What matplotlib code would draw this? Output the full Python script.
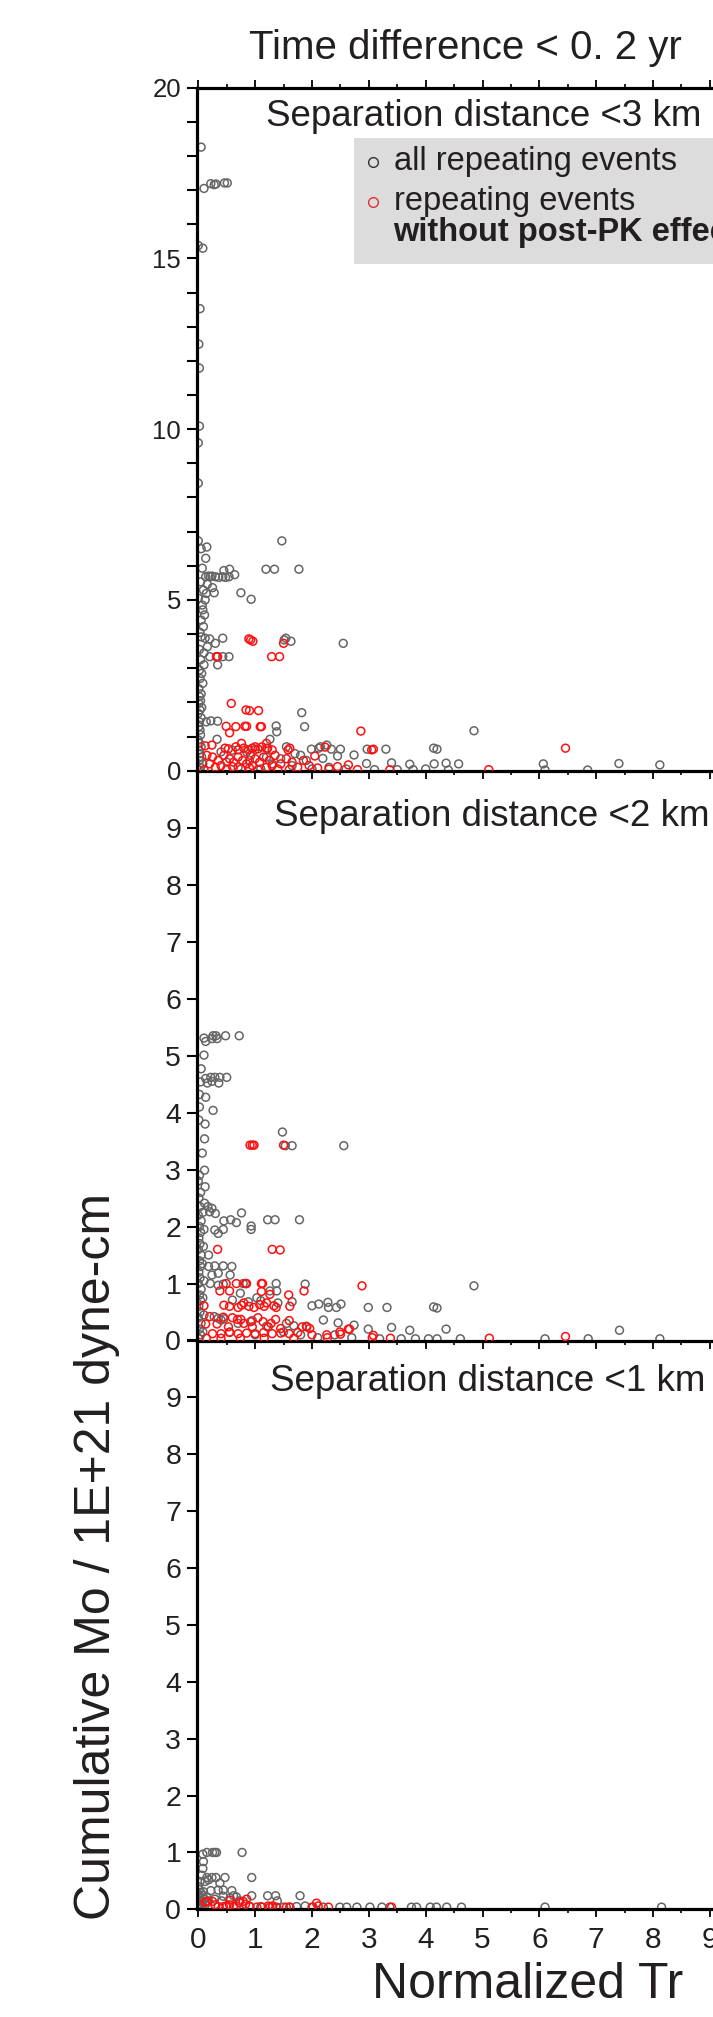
import numpy as np
import matplotlib
matplotlib.use("Agg")
import matplotlib.pyplot as plt
from matplotlib.patches import Rectangle
from matplotlib.lines import Line2D
from matplotlib.ticker import MultipleLocator, FixedLocator, FixedFormatter

plt.rcParams['font.family'] = ['Liberation Sans', 'DejaVu Sans']

# ---------------- data (Normalized Tr, cumulative Mo) ----------------
p1_all = [
    (0.05,18.26),(0.10,17.05),(0.22,17.19),(0.28,17.16),(0.31,17.18),(0.46,17.21),(0.51,17.21),
    (0.00,15.38),(0.08,15.30),(0.03,13.53),(0.01,12.49),(0.02,11.79),(0.02,10.09),(0.00,9.60),(0.00,8.42),
    (0.00,6.73),(0.05,6.50),(0.15,6.55),(0.13,6.22),(1.47,6.73),
    (0.07,5.93),(1.19,5.90),(1.34,5.90),(1.77,5.90),
    (0.13,5.68),(0.18,5.70),(0.21,5.68),(0.24,5.70),(0.30,5.68),(0.36,5.66),(0.43,5.68),(0.48,5.66),(0.54,5.68),
    (0.45,5.86),(0.55,5.90),(0.64,5.74),
    (0.04,5.53),(0.16,5.46),(0.25,5.36),(0.09,5.29),(0.14,5.19),(0.28,5.21),(0.00,5.05),(0.12,5.00),(0.07,4.85),
    (0.75,5.21),(0.93,5.02),
    (0.08,4.71),(0.11,4.56),(0.05,4.41),(0.09,4.22),(0.03,4.05),(0.05,3.92),(0.12,3.88),(0.20,3.86),(0.43,3.88),
    (0.30,3.73),(0.16,3.63),(0.02,3.55),(0.10,3.45),
    (1.54,3.88),(1.51,3.83),(1.63,3.79),(2.55,3.73),
    (0.33,3.34),(0.43,3.34),(0.54,3.34),(0.20,3.34),(0.04,3.25),(0.34,3.10),(0.10,3.10),
    (0.02,2.95),(0.06,2.85),(0.03,2.70),(0.08,2.56),(0.01,2.40),(0.05,2.25),(0.02,2.17),(0.04,2.05),(0.01,1.97),
    (0.06,1.85),(0.03,1.78),(0.00,1.68),(0.05,1.55),(0.02,1.43),
    (1.82,1.70),(0.14,1.43),(0.22,1.46),(0.34,1.45),(1.37,1.31),(1.38,1.14),(1.87,1.29),(1.26,0.92),(0.33,0.92),
    (0.01,1.29),(0.03,1.19),(0.04,1.05),(0.00,0.90),(0.02,0.80),(0.05,0.70),(0.01,0.60),(0.03,0.50),(0.06,0.40),
    (0.02,0.30),(0.08,0.20),(0.04,0.10),(0.00,0.03),
    (4.85,1.17),
    (1.99,0.63),(2.12,0.66),(2.26,0.75),(2.34,0.63),(2.50,0.63),(2.15,0.70),(2.97,0.63),(3.30,0.63),(4.14,0.66),(4.20,0.63),
    (2.19,0.36),(2.45,0.43),(2.74,0.46),(2.96,0.21),(3.40,0.23),(3.72,0.19),(4.15,0.20),(4.36,0.22),(4.58,0.20),
    (6.07,0.20),(7.40,0.21),(8.12,0.17),
    (3.10,0.03),(3.50,0.03),(3.78,0.03),(4.00,0.05),(4.40,0.02),(6.10,0.02),(6.85,0.02),
    (0.40,0.55),(0.60,0.60),(0.85,0.55),(1.00,0.62),(1.20,0.65),(1.55,0.70),(1.70,0.50),(1.45,0.35),(1.90,0.30),
    (1.65,0.15),(1.30,0.20),(0.70,0.10),(1.10,0.05),(2.00,0.05),(2.30,0.10),(2.60,0.05),(0.50,0.25),(0.90,0.30),
    (1.20,0.40),(1.80,0.45),
]
p1_red = [
    (0.32,3.34),(0.34,3.34),(1.29,3.34),(1.43,3.34),(0.89,3.86),(0.92,3.83),(0.96,3.79),(1.50,3.73),
    (0.58,1.97),(0.84,1.78),(0.90,1.76),(1.06,1.76),(0.49,1.30),(0.66,1.29),(0.82,1.30),(0.85,1.30),(1.09,1.29),
    (1.11,1.29),(0.55,1.11),(2.86,1.16),
    (0.12,0.73),(0.24,0.75),(0.47,0.66),(0.53,0.64),(0.66,0.70),(0.70,0.61),(0.76,0.80),(0.80,0.66),(0.88,0.61),
    (0.95,0.66),(1.00,0.70),(1.05,0.64),(1.12,0.70),(1.20,0.80),(1.22,0.66),(1.30,0.61),(1.58,0.61),(1.61,0.66),
    (2.23,0.69),(3.05,0.61),(3.08,0.63),(6.46,0.66),(2.05,0.43),
    (0.15,0.45),(0.25,0.40),(0.35,0.30),(0.20,0.20),(0.45,0.45),(0.55,0.35),(0.62,0.25),(0.70,0.40),(0.78,0.30),
    (0.85,0.20),(0.92,0.45),(1.00,0.35),(1.08,0.25),(1.15,0.40),(1.25,0.30),(1.35,0.45),(1.45,0.20),(1.55,0.35),
    (1.65,0.25),(1.75,0.10),(1.85,0.30),(1.95,0.15),(2.10,0.08),(0.30,0.10),(0.50,0.05),(0.60,0.12),(0.75,0.05),
    (0.90,0.08),(1.05,0.03),(1.20,0.10),(1.40,0.05),(1.60,0.03),(2.45,0.12),(2.64,0.17),(3.37,0.03),(5.11,0.03),
    (0.10,0.03),(0.40,0.15),(0.95,0.15),(1.30,0.15),(2.30,0.05),(2.80,0.03),
]
p2_all = [
    (0.10,5.31),(0.26,5.35),(0.31,5.35),(0.48,5.35),(0.72,5.35),(0.13,5.25),(0.24,5.30),(0.33,5.30),
    (0.10,5.01),(0.05,4.77),
    (0.04,4.54),(0.13,4.60),(0.16,4.52),(0.22,4.62),(0.29,4.62),(0.38,4.62),(0.50,4.62),(0.36,4.52),(0.24,4.55),
    (0.13,4.27),(0.02,4.32),(0.26,4.04),(0.02,4.10),(0.01,3.87),(0.12,3.80),(0.11,3.54),(0.07,3.29),(0.11,2.99),
    (0.12,2.70),
    (1.48,3.66),(1.53,3.42),(1.65,3.42),(2.56,3.42),
    (0.11,2.41),(0.17,2.35),(0.24,2.32),(0.30,2.23),(0.20,2.26),(0.76,2.24),
    (0.45,2.10),(0.57,2.12),(0.67,2.07),(0.93,2.01),(0.93,1.95),(1.22,2.12),(1.35,2.12),(1.78,2.12),
    (0.29,1.94),(0.35,1.88),(0.44,1.95),(0.18,1.50),
    (0.18,1.30),(0.29,1.31),(0.44,1.31),(0.59,1.30),(0.35,1.18),(0.56,1.15),(0.24,1.15),
    (0.21,1.00),(0.35,0.97),(0.44,0.99),(0.79,1.00),(0.85,1.00),(1.37,1.00),(1.38,0.87),(1.88,0.99),(1.26,0.87),
    (0.74,0.83),
    (4.85,0.96),(1.65,0.68),
    (2.00,0.61),(2.12,0.64),(2.28,0.67),(2.29,0.58),(2.51,0.64),(2.43,0.58),(2.99,0.58),(3.32,0.58),(4.14,0.59),
    (4.20,0.57),
    (0.60,0.71),(0.88,0.68),(1.10,0.70),(1.40,0.66),(1.03,0.75),
    (0.28,0.42),(0.35,0.39),(0.40,0.36),(0.45,0.38),
    (2.20,0.36),(2.46,0.31),(2.74,0.27),(2.99,0.20),(3.40,0.23),(3.72,0.18),(4.36,0.20),(7.41,0.18),(1.68,0.26),
    (1.90,0.25),(1.55,0.30),
    (3.19,0.03),(3.57,0.03),(3.82,0.03),(4.05,0.03),(4.20,0.03),(4.61,0.03),(6.10,0.03),(6.86,0.03),(8.12,0.03),
    (0.02,2.90),(0.00,2.80),(0.04,2.60),(0.01,2.50),(0.03,2.35),(0.00,2.20),(0.05,2.10),(0.02,2.00),(0.04,1.90),
    (0.01,1.80),(0.03,1.70),(0.00,1.60),(0.05,1.50),(0.02,1.40),(0.04,1.30),(0.01,1.20),(0.03,1.10),(0.00,1.00),
    (0.05,0.90),(0.02,0.80),(0.04,0.70),(0.01,0.60),(0.03,0.50),(0.00,0.40),(0.05,0.30),(0.02,0.20),(0.04,0.10),
    (0.01,0.03),(0.08,2.25),(0.10,1.95),(0.09,1.65),(0.07,1.35),(0.10,1.05),(0.08,0.75),(0.10,0.45),(0.08,0.15),
    (0.70,0.30),(0.95,0.35),(1.20,0.25),(1.50,0.15),(1.80,0.10),(2.10,0.05),(2.40,0.10),(2.70,0.05),(1.00,0.10),
    (0.55,0.15),
]
p2_red = [
    (0.91,3.43),(0.95,3.43),(0.98,3.43),(1.50,3.43),
    (0.34,1.60),(1.30,1.60),(1.44,1.59),
    (0.49,1.00),(0.67,1.00),(0.83,1.00),(0.84,1.00),(1.11,1.00),(1.13,1.00),
    (0.38,0.87),(0.55,0.87),(1.11,0.86),(1.26,0.81),(1.59,0.80),(1.86,0.87),(2.88,0.96),
    (0.10,0.61),(0.45,0.62),(0.55,0.60),(0.70,0.58),(0.76,0.62),(0.80,0.66),(0.89,0.60),(0.98,0.58),(1.08,0.63),
    (1.16,0.60),(1.20,0.66),(1.33,0.61),(1.37,0.58),(1.61,0.60),
    (0.13,0.29),(0.33,0.29),(0.44,0.41),(0.53,0.24),(0.69,0.37),(0.75,0.37),(0.92,0.33),(0.95,0.24),(1.14,0.33),
    (1.23,0.24),(1.36,0.37),(1.45,0.21),(1.83,0.24),(1.91,0.24),(1.96,0.21),(2.66,0.20),(2.50,0.11),
    (0.20,0.42),(0.60,0.40),(0.80,0.30),(1.05,0.40),(1.28,0.30),(1.60,0.35),
    (0.25,0.12),(0.40,0.12),(0.55,0.14),(0.70,0.12),(0.85,0.13),(1.00,0.12),(1.15,0.14),(1.30,0.12),(1.45,0.13),
    (1.60,0.12),(1.75,0.14),(2.00,0.10),
    (0.14,0.04),(0.40,0.04),(0.74,0.04),(1.16,0.04),(1.68,0.04),(2.27,0.05),(3.06,0.05),(3.38,0.04),(5.12,0.04),
    (6.46,0.07),(2.49,0.15),(2.64,0.20),(3.08,0.09),(2.26,0.10),
]
p3_all = [
    (0.08,0.97),(0.15,1.00),(0.25,1.00),(0.29,1.00),(0.32,1.00),(0.77,1.00),
    (0.09,0.84),(0.08,0.72),(0.94,0.56),
    (0.06,0.60),(0.15,0.56),(0.24,0.56),(0.31,0.56),(0.47,0.56),
    (0.12,0.49),(0.18,0.52),(0.38,0.46),(0.03,0.49),
    (0.35,0.34),(0.44,0.34),(0.59,0.33),(0.22,0.33),(0.09,0.31),
    (0.94,0.24),(1.22,0.24),(1.36,0.24),(1.39,0.15),(1.79,0.24),
    (0.44,0.23),(0.62,0.24),(0.67,0.22),(0.29,0.18),(0.41,0.15),(0.56,0.20),(0.73,0.15),
    (0.00,0.40),(0.02,0.35),(0.04,0.30),(0.01,0.25),(0.03,0.20),(0.05,0.15),(0.02,0.10),(0.06,0.06),(0.01,0.03),
    (0.08,0.25),(0.10,0.18),(0.07,0.12),(0.12,0.08),(0.15,0.22),(0.18,0.15),
    (1.50,0.04),(1.61,0.04),(1.73,0.05),(1.88,0.06),(2.02,0.04),(2.20,0.04),(2.49,0.04),(2.61,0.04),(2.79,0.04),
    (3.02,0.04),(3.23,0.04),(3.37,0.04),(3.75,0.04),(3.84,0.04),(4.08,0.04),(4.19,0.04),(4.37,0.04),(4.63,0.04),
    (6.10,0.04),(8.15,0.04),
    (0.90,0.05),(1.10,0.05),(1.30,0.04),(0.50,0.06),
]
p3_red = [
    (0.12,0.12),(0.25,0.14),(0.29,0.08),(0.56,0.16),(0.72,0.12),(0.79,0.14),(0.85,0.18),
    (0.44,0.05),(0.50,0.06),(0.62,0.05),(0.67,0.06),(0.91,0.05),(1.03,0.04),(1.12,0.04),(1.23,0.06),(1.26,0.04),
    (1.38,0.04),(1.55,0.04),(1.61,0.04),
    (2.08,0.11),(2.11,0.06),(2.00,0.04),(2.29,0.04),(3.40,0.04),(0.15,0.14),(0.55,0.08),(0.83,0.09),(1.31,0.06),
    (0.35,0.05),
]

panel_titles = ["Separation distance <3 km", "Separation distance <2 km", "Separation distance <1 km"]
panel_ymax = [20, 10, 10]
x_ticklabels = ["0", "1", "2", "3", "4", "5", "6", "7", "8", "9", "10"]
legend_labels = ["all repeating events", "repeating events", "without post-PK effect"]
title_text = "Time difference < 0. 2 yr"
xlabel_text = "Normalized Tr"
ylabel_text = "Cumulative Mo / 1E+21 dyne-cm"

# ---------------- figure ----------------
W, H = 713, 2017
fig = plt.figure(figsize=(W / 100, H / 100), dpi=100)
TXT = '#231f20'
GRAY = '#666666'
RED = '#ff1010'

def fx(px):
    return px / W

def fy(py):
    return 1 - py / H

x_left_px = 196.5
x_unit = 56.84
x0_px = 198.3
xmin = (x_left_px - x0_px) / x_unit
xmax = 10.0
ax_w = (x0_px + xmax * x_unit - x_left_px) / W

panel_px = [(87.7, 770.7), (770.9, 1340.5), (1340.0, 1909.4)]
axes = []
for i, (top, bot) in enumerate(panel_px):
    ax = fig.add_axes([fx(x_left_px), fy(bot), ax_w, (bot - top) / H])
    axes.append(ax)

datasets = [(p1_all, p1_red), (p2_all, p2_red), (p3_all, p3_red)]
for i, ax in enumerate(axes):
    alld, redd = datasets[i]
    a = np.array(alld).T
    r = np.array(redd).T
    ax.scatter(a[0], a[1], s=32, facecolors='none', edgecolors=GRAY, linewidths=1.1, zorder=2)
    ax.scatter(r[0], r[1], s=32, facecolors='none', edgecolors=RED, linewidths=1.1, zorder=3)
    ax.set_xlim(xmin, xmax)
    ax.set_ylim(0, panel_ymax[i])
    ax.patch.set_alpha(0)
    ax.spines['right'].set_visible(False)
    if i > 0:
        ax.spines['top'].set_visible(False)
    for s in ['left', 'bottom', 'top']:
        ax.spines[s].set_linewidth(2.3)
        ax.spines[s].set_color('black')
    # x ticks
    ax.xaxis.set_major_locator(MultipleLocator(1))
    ax.xaxis.set_minor_locator(MultipleLocator(0.5))
    ax.tick_params(axis='x', which='major', direction='out', length=5.8, width=1.3, color='black',
                   top=(i == 0), bottom=True, labelbottom=(i == 2), labelsize=21.5, labelcolor=TXT, pad=6)
    ax.tick_params(axis='x', which='minor', direction='out', length=3.0, width=1.2, color='black',
                   top=(i == 0), bottom=True)
    if i == 2:
        ax.xaxis.set_major_locator(FixedLocator(list(range(11))))
        ax.xaxis.set_major_formatter(FixedFormatter(x_ticklabels))
    # y ticks
    if i == 0:
        ax.yaxis.set_major_locator(MultipleLocator(5))
        ax.yaxis.set_minor_locator(MultipleLocator(1))
        ysize = 18.5
    else:
        ax.yaxis.set_major_locator(FixedLocator(list(range(11))))
        ax.yaxis.set_major_formatter(FixedFormatter([str(k) for k in range(10)] + [""]))
        ysize = 20.5
    ax.tick_params(axis='y', which='both', direction='out', length=7, width=1.5, color='black',
                   labelsize=ysize, labelcolor=TXT, pad=4, right=False)

# panel titles
sub_pos = [(483.5, 116.7), (492.0, 816.7), (488.0, 1381.7)]
for (px, py), t in zip(sub_pos, panel_titles):
    fig.text(fx(px), fy(py), t, ha='center', va='center', fontsize=26.5, color=TXT)

# main title and axis labels
fig.text(fx(465), fy(48.3), title_text, ha='center', va='center', fontsize=29, color=TXT)
fig.text(fx(527.5), fy(1985), xlabel_text, ha='center', va='center', fontsize=36, color=TXT)
fig.text(fx(97), fy(1557), ylabel_text, ha='center', va='center', fontsize=36, color=TXT, rotation=90)

# legend box
fig.add_artist(Rectangle((fx(354), fy(264)), 1.0, (264 - 138) / H, transform=fig.transFigure,
                         facecolor='#dcdcdc', edgecolor='none', zorder=5))
fig.add_artist(Line2D([fx(372.6)], [fy(161.7)], transform=fig.transFigure, marker='o', markersize=7,
                      markerfacecolor='none', markeredgecolor='#333333', markeredgewidth=1.0, linestyle='none', zorder=6))
fig.add_artist(Line2D([fx(372.6)], [fy(201.7)], transform=fig.transFigure, marker='o', markersize=7,
                      markerfacecolor='none', markeredgecolor='#e03030', markeredgewidth=1.0, linestyle='none', zorder=6))
fig.text(fx(393.5), fy(161.7), legend_labels[0], ha='left', va='center', fontsize=23.5, color=TXT, zorder=7)
fig.text(fx(393.5), fy(201.7), legend_labels[1], ha='left', va='center', fontsize=23.5, color=TXT, zorder=7)
fig.text(fx(393.5), fy(232), legend_labels[2], ha='left', va='center', fontsize=23.5, color=TXT,
         fontweight='bold', zorder=7)

fig.savefig("out.png", dpi=100)
